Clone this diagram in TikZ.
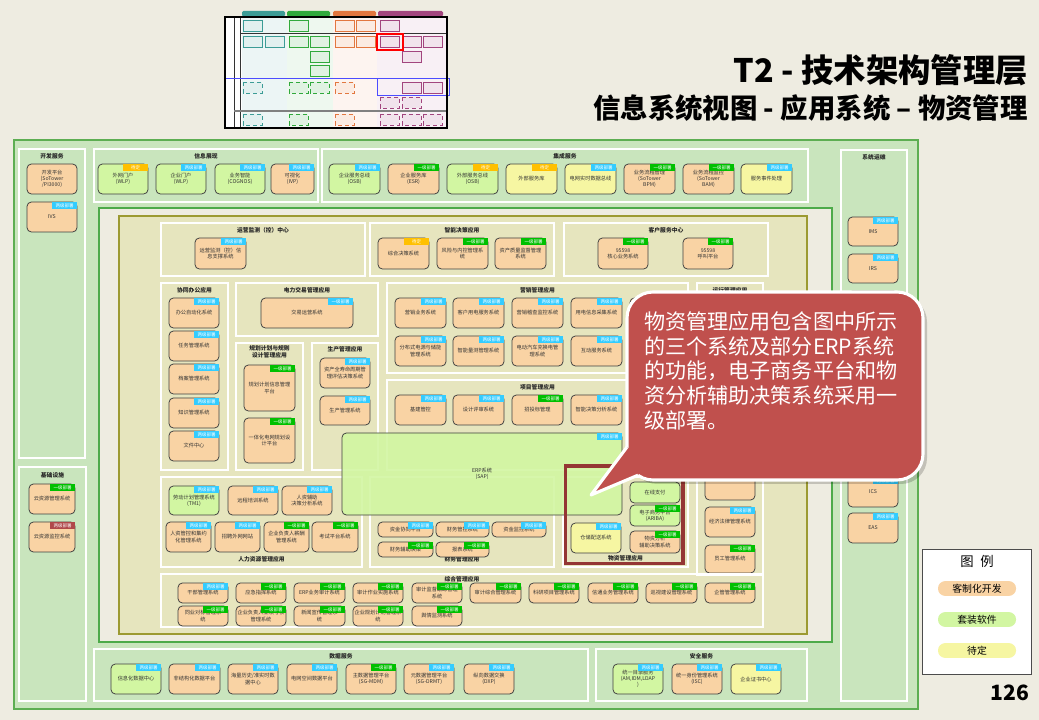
\documentclass[tikz,border=0pt]{standalone}
\usepackage{fontspec}
\setmainfont{Noto Sans CJK SC}
\usetikzlibrary{calc}
\definecolor{slidebg}{HTML}{EEECE1}
\definecolor{panelgreen}{HTML}{C9E5BD}
\definecolor{panelline}{HTML}{5DAE52}
\definecolor{innerline}{HTML}{4DAA4A}
\definecolor{olivefill}{HTML}{E6E5BE}
\definecolor{oliveline}{HTML}{9C9A32}
\definecolor{peach}{HTML}{F9D3A4}
\definecolor{lime}{HTML}{D2F6A2}
\definecolor{lemon}{HTML}{F6F6A2}
\definecolor{tagone}{HTML}{00C000}
\definecolor{tagtwo}{HTML}{33CCFF}
\definecolor{tagtbd}{HTML}{FFC000}
\definecolor{tagred}{HTML}{B0484A}
\definecolor{calloutred}{HTML}{C0504D}
\definecolor{wzframe}{HTML}{943634}
\definecolor{thumbteal}{HTML}{3C9C96}
\definecolor{thumbgreen}{HTML}{30A93C}
\definecolor{thumborange}{HTML}{E2773F}
\definecolor{thumbpurple}{HTML}{A2457E}
\tikzset{
  appnode/.style={draw=black!75, line width=0.55pt, rounded corners=0.11cm, anchor=north west,
    inner sep=0.6pt, outer sep=0pt, align=center, font=\fontsize{3.7}{4.4}\selectfont, text=black!80},
  tagnode/.style={anchor=north east, minimum width=0.62cm, minimum height=0.17cm, inner sep=0pt,
    outer sep=0pt, text=white, font=\fontsize{3.2}{3.2}\selectfont},
  grpline/.style={draw=white, line width=0.9pt},
  grplabel/.style={font=\fontsize{4.1}{4.9}\selectfont\bfseries, inner sep=0pt, align=center, text=black!85},
  legendpill/.style={rounded corners=0.18cm, minimum width=1.95cm, minimum height=0.37cm, inner sep=0pt,
    font=\fontsize{7}{7}\selectfont}
}
% box: name, x, y (top left), width, height, fill, tag (0 none, 1 one-level, 2 two-level, 3 tbd, 4 red, 5 blue one-level), text
\newcommand{\appbox}[8]{%
  \node[appnode, fill=#6, minimum width=#4*0.025cm, minimum height=#5*0.025cm] (#1) at (#2,#3) {#8};
  \ifcase#7\or
    \node[tagnode, fill=tagone] (#1-tag) at (#1.north east) {一级部署};\or
    \node[tagnode, fill=tagtwo] (#1-tag) at (#1.north east) {两级部署};\or
    \node[tagnode, fill=tagtbd] (#1-tag) at (#1.north east) {待定};\or
    \node[tagnode, fill=tagred] (#1-tag) at (#1.north east) {两级部署};\or
    \node[tagnode, fill=tagtwo] (#1-tag) at (#1.north east) {一级部署};\fi}
% group: name, x1, y1, x2, y2, label y, label
\newcommand{\grp}[7]{%
  \draw[grpline] (#2,#3) rectangle (#4,#5);
  \node[grplabel] (#1) at ({(#2+#4)/2},#6) {#7};}

\begin{document}
\begin{tikzpicture}[x=0.025cm, y=-0.025cm]
\useasboundingbox (0,0) rectangle (1039,720);
\fill[slidebg] (0,0) rectangle (1039,720);

% thumbnail
\fill[white] (225,17) rectangle (447,128);
\fill[thumbteal!10] (242,17) rectangle (287,128);
\fill[thumbgreen!8] (287,17) rectangle (333,128);
\fill[thumborange!8] (333,17) rectangle (377,128);
\fill[thumbpurple!8] (377,17) rectangle (447,128);
\fill[thumbteal, rounded corners=1pt] (242,11) rectangle (285,16.5);
\fill[thumbgreen, rounded corners=1pt] (287,11) rectangle (330,16.5);
\fill[thumborange, rounded corners=1pt] (333,11) rectangle (376,16.5);
\fill[thumbpurple, rounded corners=1pt] (378,11) rectangle (443,16.5);
\draw[black!80, line width=0.5pt] (234,17) -- (234,128) (240,17) -- (240,128) (240,33) -- (447,33);
\draw[gray, line width=0.8pt] (234,111) -- (447,111);
\draw[blue!70, line width=0.6pt] (225,78) -- (377,78) (377,78) rectangle (449,95);
\draw[black, line width=1pt] (225,17) rectangle (447,128);
\foreach \dx/\dy/\dc/\ds in {243/20/thumbteal/solid, 289/20/thumbgreen/solid, 335/20/thumborange/solid,
    356/20/thumborange/solid, 380/20/thumbpurple/solid, 243/36/thumbteal/solid, 265/36/thumbteal/solid,
    289/36/thumbgreen/solid, 310/36/thumbgreen/solid, 335/36/thumborange/solid, 356/36/thumborange/solid,
    380/36/thumbpurple/solid, 402/36/thumbpurple/solid, 423/36/thumbpurple/solid, 310/51/thumbgreen/solid,
    402/51/thumbpurple/solid, 310/65/thumbgreen/solid, 243/82/thumbteal/densely dashed,
    289/82/thumbgreen/densely dashed, 310/82/thumbgreen/densely dashed, 335/82/thumborange/densely dashed,
    402/82/thumbpurple/solid, 423/82/thumbpurple/solid, 380/97/thumbpurple/densely dashed,
    402/97/thumbpurple/densely dashed, 243/114/thumbteal/densely dashed, 289/114/thumbgreen/densely dashed,
    335/114/thumborange/densely dashed, 380/114/thumbpurple/densely dashed, 402/114/thumbpurple/densely dashed,
    423/114/thumbpurple/densely dashed}
  \draw[\dc, fill=\dc!15, \ds, line width=0.6pt] (\dx,\dy) rectangle ++(19,11);
\draw[red, line width=1.6pt] (377,34) rectangle (403,50);

% titles
\node[anchor=east, inner sep=0pt, font=\fontsize{23}{23}\selectfont\bfseries] (title) at (1028,70) {T2 - 技术架构管理层};
\node[anchor=east, inner sep=0pt, font=\fontsize{19.5}{19.5}\selectfont\bfseries] (subtitle) at (1028,108) {信息系统视图 - 应用系统 – 物资管理};

% panels
\draw[panelline, fill=panelgreen, line width=1pt] (14,140) rectangle (918,709);
\draw[innerline, fill=slidebg, line width=1.4pt] (99,208) rectangle (832,642);
\draw[oliveline, fill=olivefill, line width=0.9pt] (119,216) rectangle (807,634);

% 开发服务 / 基础设施
\grp{grpdev}{19}{149}{85}{458}{156}{开发服务}
\appbox{devplat}{27}{164}{50}{30}{peach}{0}{开发平台\\(SoTower\\/PI3000)}
\appbox{ivs}{27}{202}{50}{30}{peach}{2}{IVS}
\grp{grpinfra}{19}{467}{86}{701}{475}{基础设施}
\appbox{cloudmgr}{29}{484}{46}{30}{peach}{1}{云资源管理系统}
\appbox{cloudmon}{29}{522}{46}{30}{peach}{4}{云资源监控系统}

% 信息展现
\grp{grpshow}{94}{149}{318}{202}{156}{信息展现}
\appbox{wlpout}{98}{164}{50}{30}{lime}{3}{外网门户\\(WLP)}
\appbox{wlpin}{156}{164}{50}{30}{lime}{2}{企业门户\\(WLP)}
\appbox{cognos}{215}{164}{50}{30}{lime}{2}{业务智能\\(COGNOS)}
\appbox{ivp}{271}{164}{43}{30}{peach}{2}{可视化\\(IVP)}

% 集成服务
\grp{grpint}{322}{149}{808}{202}{156}{集成服务}
\appbox{osb}{329}{164}{51}{30}{lime}{2}{企业服务总线\\(OSB)}
\appbox{esr}{388}{164}{51}{30}{peach}{1}{企业服务库\\(ESR)}
\appbox{osbout}{447}{164}{51}{30}{lime}{3}{外部服务总线\\(OSB)}
\appbox{extlib}{506}{164}{51}{30}{lemon}{3}{外部服务库}
\appbox{rtbus}{565}{164}{51}{30}{lemon}{2}{电网实时数据总线}
\appbox{bpm}{624}{164}{51}{30}{peach}{1}{业务流程管理\\(SoTower\\BPM)}
\appbox{bam}{683}{164}{51}{30}{peach}{1}{业务流程监控\\(SoTower\\BAM)}
\appbox{event}{741}{164}{51}{30}{lemon}{2}{服务事件处理}

% 系统运维
\grp{grpops}{841}{150}{907}{701}{157}{系统运维}
\appbox{ims}{848}{217}{50}{29}{peach}{2}{IMS}
\appbox{irs}{848}{254}{50}{29}{peach}{2}{IRS}
\appbox{opsc}{848}{291}{50}{29}{peach}{2}{}
\appbox{ics}{848}{477}{50}{30}{peach}{2}{ICS}
\appbox{eas}{848}{513}{50}{30}{peach}{2}{EAS}

% 运营监测 / 智能决策 / 客户服务
\grp{grpmon}{161}{223}{365}{276}{230}{运营监测（控）中心}
\appbox{monsys}{195}{238}{51}{31}{peach}{2}{运营监测（控）信\\息支撑系统}
\grp{grpdss}{370}{223}{554}{276}{230}{智能决策应用}
\appbox{dss}{378}{238}{51}{31}{peach}{3}{综合决策系统}
\appbox{risk}{437}{238}{51}{31}{peach}{1}{风险与内控管理系\\统}
\appbox{asset}{495}{238}{51}{31}{peach}{1}{资产质量监督管理\\系统}
\grp{grpcs}{564}{223}{768}{276}{230}{客户服务中心}
\appbox{cscore}{598}{238}{50}{31}{peach}{1}{95598\\核心业务系统}
\appbox{cscall}{683}{238}{50}{31}{peach}{1}{95598\\呼叫平台}

% 协同办公
\grp{grpoa}{161}{283}{228}{470}{290}{协同办公应用}
\appbox{oa}{169}{298}{50}{30}{peach}{2}{办公自动化系统}
\appbox{task}{169}{331}{50}{30}{peach}{2}{任务管理系统}
\appbox{archive}{169}{364}{50}{30}{peach}{2}{档案管理系统}
\appbox{know}{169}{398}{50}{30}{peach}{2}{知识管理系统}
\appbox{docs}{169}{431}{50}{30}{peach}{2}{文件中心}

% 电力交易 / 规划 / 生产
\grp{grptrade}{236}{283}{378}{336}{290}{电力交易管理应用}
\appbox{trade}{261}{298}{92}{30}{peach}{5}{交易运营系统}
\grp{grpplan}{236}{343}{303}{470}{352}{规划计划与规则\\设计管理应用}
\appbox{planinfo}{244}{365}{51}{46}{peach}{1}{规划计划信息管理\\平台}
\appbox{plangrid}{244}{418}{51}{45}{peach}{1}{一体化电网规划设\\计平台}
\grp{grpprod}{312}{343}{378}{470}{349}{生产管理应用}
\appbox{lcc}{320}{358}{50}{30}{peach}{2}{资产全寿命周期管\\理评估决策系统}
\appbox{prod}{320}{396}{50}{29}{peach}{2}{生产管理系统}

% 营销
\grp{grpmkt}{387}{283}{688}{373}{290}{营销管理应用}
\appbox{mkt}{395}{298}{51}{30}{peach}{2}{营销业务系统}
\appbox{cust}{453}{298}{51}{30}{peach}{2}{客户用电服务系统}
\appbox{audit}{512}{298}{51}{30}{peach}{2}{营销稽查监控系统}
\appbox{meter}{571}{298}{51}{30}{peach}{2}{用电信息采集系统}
\appbox{mkte}{630}{298}{51}{30}{peach}{2}{}
\appbox{dg}{395}{336}{51}{30}{peach}{2}{分布式电源与储能\\管理系统}
\appbox{ami}{453}{336}{51}{30}{peach}{2}{智能量测管理系统}
\appbox{ev}{512}{336}{51}{30}{peach}{2}{电动汽车充换电管\\理系统}
\appbox{inter}{571}{336}{51}{30}{peach}{2}{互动服务系统}

% 运行 / 项目
\grp{grprun}{697}{283}{763}{575}{290}{运行管理应用}
\appbox{runa}{705}{470}{50}{30}{peach}{2}{}
\appbox{law}{705}{507}{50}{30}{peach}{2}{经济法律管理系统}
\appbox{staff}{705}{545}{50}{28}{peach}{1}{员工管理系统}
\grp{grpproj}{387}{380}{688}{470}{387}{项目管理应用}
\appbox{build}{395}{395}{51}{30}{peach}{2}{基建管控}
\appbox{design}{453}{395}{51}{30}{peach}{2}{设计评审系统}
\appbox{bid}{512}{395}{51}{30}{peach}{1}{招投标管理}
\appbox{projdss}{571}{395}{51}{30}{peach}{2}{智能决策分析系统}

% 人力资源 / 财务 / 物资
\grp{grphr}{161}{477}{362}{567}{559}{人力资源管理应用}
\appbox{tm1}{169}{486}{50}{29}{lime}{2}{劳动计划管理系统\\(TM1)}
\appbox{train}{228}{486}{50}{29}{peach}{2}{远程培训系统}
\appbox{hrdss}{282}{486}{50}{29}{peach}{2}{人资辅助\\决策分析系统}
\appbox{hrctl}{166}{522}{45}{30}{peach}{2}{人资管控和集约\\化管理系统}
\appbox{recruit}{215}{522}{45}{30}{peach}{2}{招聘外网网站}
\appbox{salary}{264}{522}{45}{30}{peach}{1}{企业负责人薪酬\\管理系统}
\appbox{exam}{312}{522}{46}{30}{peach}{1}{考试平台系统}
\grp{grpfin}{370}{477}{554}{567}{559}{财务管理应用}
\appbox{fund}{378}{522}{55}{15}{peach}{2}{资金协同平台}
\appbox{finctl}{436}{522}{53}{15}{peach}{2}{财务管控系统}
\appbox{fundmon}{492}{522}{54}{15}{peach}{2}{资金监控系统}
\appbox{findss}{378}{542}{55}{15}{peach}{1}{财务辅助决策}
\appbox{report}{436}{542}{53}{15}{peach}{1}{报表系统}
\grp{grpmat}{563}{477}{688}{567}{558}{物资管理应用}
\appbox{pay}{630}{482}{50}{21}{lime}{0}{在线支付}
\appbox{ariba}{630}{505}{50}{21}{lime}{1}{电子商务平台\\(ARIBA)}
\appbox{matdss}{630}{531}{50}{22}{peach}{1}{物资分析\\辅助决策系统}
\appbox{store}{571}{523}{50}{30}{lemon}{2}{仓储配送系统}

% ERP
\node[appnode, fill=lime, fill opacity=0.9, text opacity=1, minimum width=7cm, minimum height=2.05cm] (erp) at (342,433) {ERP系统\\(SAP)};
\node[tagnode, fill=tagtwo] (erp-tag) at (erp.north east) {两级部署};

% 综合管理
\grp{grpgen}{161}{574}{763}{627}{579}{综合管理应用}
\appbox{cadre}{178}{583}{50}{20}{peach}{2}{干部管理系统}
\appbox{emerg}{236}{583}{50}{20}{peach}{1}{应急指挥系统}
\appbox{erpaudit}{294}{583}{51}{20}{peach}{1}{ERP业务审计系统}
\appbox{auditjob}{353}{583}{50}{20}{peach}{1}{审计作业实施系统}
\appbox{audittrack}{412}{583}{50}{20}{peach}{1}{审计监督跟踪管理\\系统}
\appbox{auditgen}{470}{583}{51}{20}{peach}{1}{审计综合管理系统}
\appbox{research}{529}{583}{50}{20}{peach}{1}{科研项目管理系统}
\appbox{comm}{588}{583}{50}{20}{peach}{1}{信通业务管理系统}
\appbox{inspect}{646}{583}{51}{20}{peach}{1}{巡视建设管理系统}
\appbox{corp}{705}{583}{50}{20}{peach}{1}{企管管理系统}
\appbox{bench}{178}{606}{50}{20}{peach}{1}{同业对标管理系\\统}
\appbox{perf}{236}{606}{50}{20}{peach}{1}{企业负责人业绩考核\\管理系统}
\appbox{news}{294}{606}{51}{20}{peach}{1}{新闻宣传管理系\\统}
\appbox{corpplan}{353}{606}{50}{20}{peach}{1}{企业规划计划管理系\\统}
\appbox{opinion}{412}{606}{50}{20}{peach}{1}{舆情监测系统}

% 数据服务 / 安全服务
\grp{grpdata}{94}{649}{588}{701}{656}{数据服务}
\appbox{dc}{111}{664}{50}{30}{lime}{2}{信息化数据中心}
\appbox{unstr}{169}{664}{51}{30}{peach}{2}{非结构化数据平台}
\appbox{hist}{228}{664}{50}{30}{peach}{2}{海量历史/准实时数\\据中心}
\appbox{gis}{287}{664}{50}{30}{peach}{2}{电网空间数据平台}
\appbox{mdm}{346}{664}{50}{30}{peach}{1}{主数据管理平台\\(SG-MDM)}
\appbox{drmt}{404}{664}{50}{30}{peach}{2}{元数据管理平台\\(SG-DRMT)}
\appbox{dxp}{464}{664}{50}{30}{peach}{2}{纵向数据交换\\(DXP)}
\grp{grpsec}{596}{649}{807}{701}{656}{安全服务}
\appbox{dir}{613}{664}{50}{30}{lime}{2}{统一目录服务\\(AM,IDM,LDAP\\)}
\appbox{isc}{672}{664}{50}{30}{peach}{2}{统一身份管理系统\\(ISC)}
\appbox{ca}{731}{664}{50}{30}{lemon}{2}{企业证书中心}

% 物资管理 frame
\draw[wzframe, line width=2.8pt] (565.5,466) rectangle (683,563.5);

% callout
\fill[black, opacity=0.18, rounded corners=0.65cm] (631,296) rectangle (927,484);
\draw[white, fill=calloutred, line width=2.2pt, rounded corners=0.65cm] (627,292) rectangle (923,480);
\fill[calloutred] (591,495) -- (627,447) -- (648,460) -- (638,475.2) -- cycle;
\draw[white, line width=2.2pt, line join=round] (627,447) -- (591,495) -- (638,475.2);
\node[anchor=north west, inner sep=0pt, text=white, align=left, font=\fontsize{15}{17.7}\selectfont] (callouttext) at (644,311)
  {物资管理应用包含图中所示\\的三个系统及部分ERP系统\\的功能，电子商务平台和物\\资分析辅助决策系统采用一\\级部署。};

% legend
\draw[black!70, fill=white, line width=0.6pt] (922,549) rectangle (1031,674);
\node[font=\fontsize{9.5}{9.5}\selectfont] (legendtitle) at (977,561) {图\enspace 例};
\node[legendpill, fill=peach] (lgcustom) at (977,588.5) {客制化开发};
\node[legendpill, fill=lime] (lgpkg) at (977,619.5) {套装软件};
\node[legendpill, fill=lemon] (lgtbd) at (977,650.5) {待定};

\node[font=\fontsize{15}{15}\selectfont\bfseries] (pageno) at (1010,693) {126};
\end{tikzpicture}
\end{document}
